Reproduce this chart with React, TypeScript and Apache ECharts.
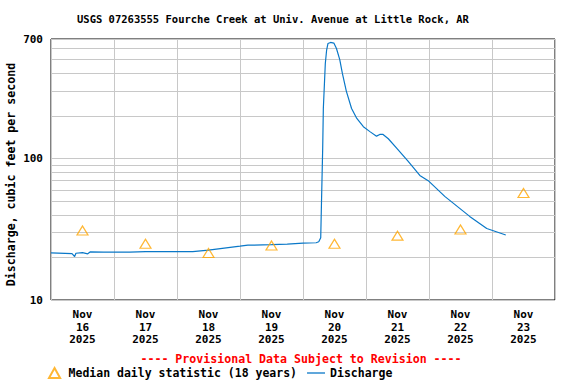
import React, { useEffect, useRef } from "react";
import * as echarts from "echarts";

const TITLE = "USGS 07263555 Fourche Creek at Univ. Avenue at Little Rock, AR";
const Y_NAME = "Discharge, cubic feet per second";
const PROVISIONAL = "---- Provisional Data Subject to Revision ----";
const MEDIAN_NAME = "Median daily statistic (18 years)";
const DISCHARGE_NAME = "Discharge";

const dayLabels = ["Nov\n16\n2025", "Nov\n17\n2025", "Nov\n18\n2025", "Nov\n19\n2025", "Nov\n20\n2025", "Nov\n21\n2025", "Nov\n22\n2025", "Nov\n23\n2025"];
const yTickLabels = [10, 100, 700];
const gridValues = [20, 30, 40, 50, 60, 70, 80, 90, 200, 300, 400, 500, 600];

const dischargeTimes = [
  "2025-11-16 00:00", "2025-11-16 08:00", "2025-11-16 09:00", "2025-11-16 09:30", "2025-11-16 12:00",
  "2025-11-16 14:00", "2025-11-16 15:00", "2025-11-16 20:00", "2025-11-17 06:00", "2025-11-17 12:00",
  "2025-11-17 18:00", "2025-11-18 06:00", "2025-11-18 12:00", "2025-11-18 18:00", "2025-11-19 00:00",
  "2025-11-19 03:00", "2025-11-19 12:00", "2025-11-19 18:00", "2025-11-20 00:00", "2025-11-20 05:00",
  "2025-11-20 06:00", "2025-11-20 06:45", "2025-11-20 07:00", "2025-11-20 07:30", "2025-11-20 07:45",
  "2025-11-20 08:30", "2025-11-20 09:00", "2025-11-20 09:30", "2025-11-20 10:30", "2025-11-20 11:45",
  "2025-11-20 12:45", "2025-11-20 14:00", "2025-11-20 15:00", "2025-11-20 16:30", "2025-11-20 18:30",
  "2025-11-20 20:30", "2025-11-20 23:00", "2025-11-21 01:30", "2025-11-21 04:00", "2025-11-21 05:15",
  "2025-11-21 06:30", "2025-11-21 08:30", "2025-11-21 11:45", "2025-11-21 16:00", "2025-11-21 20:30",
  "2025-11-22 00:00", "2025-11-22 06:00", "2025-11-22 15:30", "2025-11-22 22:00", "2025-11-23 05:15",
];
const dischargeValues = [
  21.5, 21.3, 20.3, 21.4, 21.6,
  21.2, 21.9, 21.8, 21.8, 22.0,
  22.0, 22.0, 22.5, 23.3, 24.0,
  24.4, 24.6, 24.8, 25.2, 25.4,
  25.8, 27.5, 45, 118, 227,
  470, 585, 650, 662, 655,
  600, 500, 400, 300, 226,
  192, 168, 155, 144, 148,
  148, 138, 118, 96, 76,
  69, 54, 39, 32, 28.8,
];

const medianTimes = ["2025-11-16 12:00", "2025-11-17 12:00", "2025-11-18 12:00", "2025-11-19 12:00", "2025-11-20 12:00", "2025-11-21 12:00", "2025-11-22 12:00", "2025-11-23 12:00"];
const medianValues = [31, 25, 21.5, 24.3, 25, 28.5, 31.5, 57];

const X_MIN = "2025-11-16 00:00";
const X_MAX = "2025-11-24 00:00";
const DAY = 86400000;

function toMs(s: string): number {
  const [d, t] = s.split(" ");
  const [y, m, day] = d.split("-").map(Number);
  const [h, mi] = t.split(":").map(Number);
  return Date.UTC(y, m - 1, day, h, mi);
}

const FONT = "'DejaVu Sans Mono', monospace";

export default function App() {
  const ref = useRef<HTMLDivElement>(null);
  useEffect(() => {
    if (!ref.current) return;
    const chart = echarts.init(ref.current, null, { renderer: "svg" });
    const option: any = {
      animation: false,
      backgroundColor: "#ffffff",
      title: {
        text: TITLE,
        left: 77,
        top: 13,
        padding: 0,
        textStyle: { fontFamily: FONT, fontSize: 10.5, fontWeight: "bold", color: "#000" },
      },
      grid: {
        left: 51,
        right: 21,
        top: 39,
        bottom: 84,
        containLabel: false,
        outerBoundsMode: "none",
        show: true,
        borderColor: "#000",
        borderWidth: 1,
        backgroundColor: "transparent",
      },
      legend: {
        left: 48,
        top: 367,
        padding: 0,
        itemWidth: 18,
        itemHeight: 10,
        itemGap: 10,
        textStyle: { fontFamily: FONT, fontSize: 11.5, fontWeight: "bold", color: "#000" },
        data: [
          { name: MEDIAN_NAME, icon: "path://M5,0L10,9L0,9Z" },
          { name: DISCHARGE_NAME, icon: "path://M0,0L18,0L18,1.3L0,1.3Z" },
        ],
      },
      xAxis: [
        {
          type: "value",
          min: toMs(X_MIN),
          max: toMs(X_MAX),
          interval: DAY,
          axisLine: { show: false },
          axisTick: { show: false },
          axisLabel: { show: false },
          splitLine: { show: true, lineStyle: { color: "#c8c8c8", width: 1 } },
        },
        {
          type: "category",
          data: dayLabels,
          position: "bottom",
          boundaryGap: true,
          axisLine: { show: false },
          axisTick: { show: false },
          splitLine: { show: false },
          axisLabel: {
            interval: 0,
            margin: 8,
            fontFamily: FONT,
            fontSize: 11,
            fontWeight: "bold",
            color: "#000",
            lineHeight: 12.7,
          },
        },
      ],
      yAxis: {
        type: "log",
        logBase: 10,
        min: yTickLabels[0],
        max: yTickLabels[yTickLabels.length - 1],
        name: Y_NAME,
        nameLocation: "middle",
        nameRotate: 90,
        nameGap: 34,
        nameMoveOverlap: false,
        nameTextStyle: { fontFamily: FONT, fontSize: 11.6, fontWeight: "bold", color: "#000", padding: [0, 10, 0, 0] },
        axisLine: { show: false },
        axisTick: { show: false },
        axisLabel: {
          margin: 8,
          fontFamily: FONT,
          fontSize: 11,
          fontWeight: "bold",
          color: "#000",
          formatter: (v: number) => String(Math.round(v)),
        },
        splitLine: { show: true, lineStyle: { color: "#c8c8c8", width: 1 } },
      },
      series: [
        {
          name: DISCHARGE_NAME,
          type: "line",
          xAxisIndex: 0,
          symbol: "none",
          z: 3,
          lineStyle: { color: "#0a78c8", width: 1.2 },
          itemStyle: { color: "#0a78c8" },
          data: dischargeTimes.map((t, i) => [toMs(t), dischargeValues[i]]),
          markLine: {
            silent: true,
            z: 1,
            symbol: "none",
            label: { show: false },
            lineStyle: { color: "#c8c8c8", width: 1, type: "solid" },
            data: gridValues.map((v) => ({ yAxis: v })),
          },
        },
        {
          name: MEDIAN_NAME,
          type: "scatter",
          xAxisIndex: 0,
          z: 4,
          symbol: "triangle",
          symbolSize: [11, 9],
          itemStyle: { color: "rgba(255,255,255,0)", borderColor: "#FFA500", borderWidth: 1.2 },
          data: medianTimes.map((t, i) => [toMs(t), medianValues[i]]),
        },
      ],
      graphic: [
        {
          type: "text",
          x: 301,
          y: 359,
          style: {
            text: PROVISIONAL,
            fill: "#FF0000",
            font: `bold 11.6px ${FONT}`,
            align: "center",
            verticalAlign: "middle",
          },
        },
      ],
    };
    chart.setOption(option);
    return () => chart.dispose();
  }, []);
  return <div ref={ref} style={{ position: "fixed", left: 0, top: 0, width: 576, height: 384 }} />;
}
